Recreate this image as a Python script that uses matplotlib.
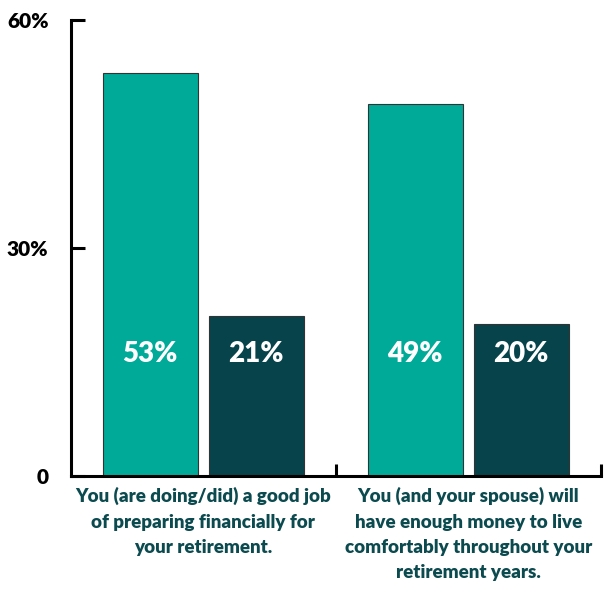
import matplotlib.pyplot as plt
import numpy as np

categories = [
    "You (are doing/did) a good job\nof preparing financially for\nyour retirement.",
    "You (and your spouse) will\nhave enough money to live\ncomfortably throughout your\nretirement years.",
]
series_a = [53, 49]
series_b = [21, 20]
y_ticks = [0, 30, 60]
y_tick_labels = ["0", "30%", "60%"]

TEAL = "#00AA99"
DARK = "#07434A"
TEXT = "#0B4A4F"

plt.rcParams["font.family"] = ["Lato", "DejaVu Sans"]

fig = plt.figure(figsize=(6.05, 5.92), dpi=100)
ax = fig.add_axes([0.117, 0.196, 0.876, 0.770])

x = np.arange(len(categories))
w = 0.36
off = 0.2
ax.bar(x - off, series_a, width=w, color=TEAL, edgecolor="#333333", linewidth=0.8, zorder=2)
ax.bar(x + off, series_b, width=w, color=DARK, edgecolor="#333333", linewidth=0.8, zorder=2)

for xi, v in zip(x - off, series_a):
    ax.text(xi, 16, f"{v}%", ha="center", va="center", color="white",
            fontsize=20, fontweight="heavy")
for xi, v in zip(x + off, series_b):
    ax.text(xi, 16, f"{v}%", ha="center", va="center", color="white",
            fontsize=20, fontweight="heavy")

ax.set_xlim(-0.5, 1.5)
ax.set_ylim(0, 60)

for s in ["top", "right"]:
    ax.spines[s].set_visible(False)
for s in ["left", "bottom"]:
    ax.spines[s].set_linewidth(2.2)
    ax.spines[s].set_color("black")

ax.set_yticks(y_ticks)
ax.set_yticklabels(y_tick_labels, fontsize=15, fontweight="heavy")
ax.tick_params(axis="y", direction="in", length=10, width=2.2, pad=16)

ax.set_xticks(x)
ax.set_xticklabels(categories, fontsize=13.5, fontweight="heavy", color=TEXT,
                   linespacing=1.6)
ax.tick_params(axis="x", which="major", length=0, pad=8)
ax.set_xticks([0.5, 1.5], minor=True)
ax.tick_params(axis="x", which="minor", direction="in", length=9, width=2.2)

plt.savefig("out.png", dpi=100)
plt.close()
